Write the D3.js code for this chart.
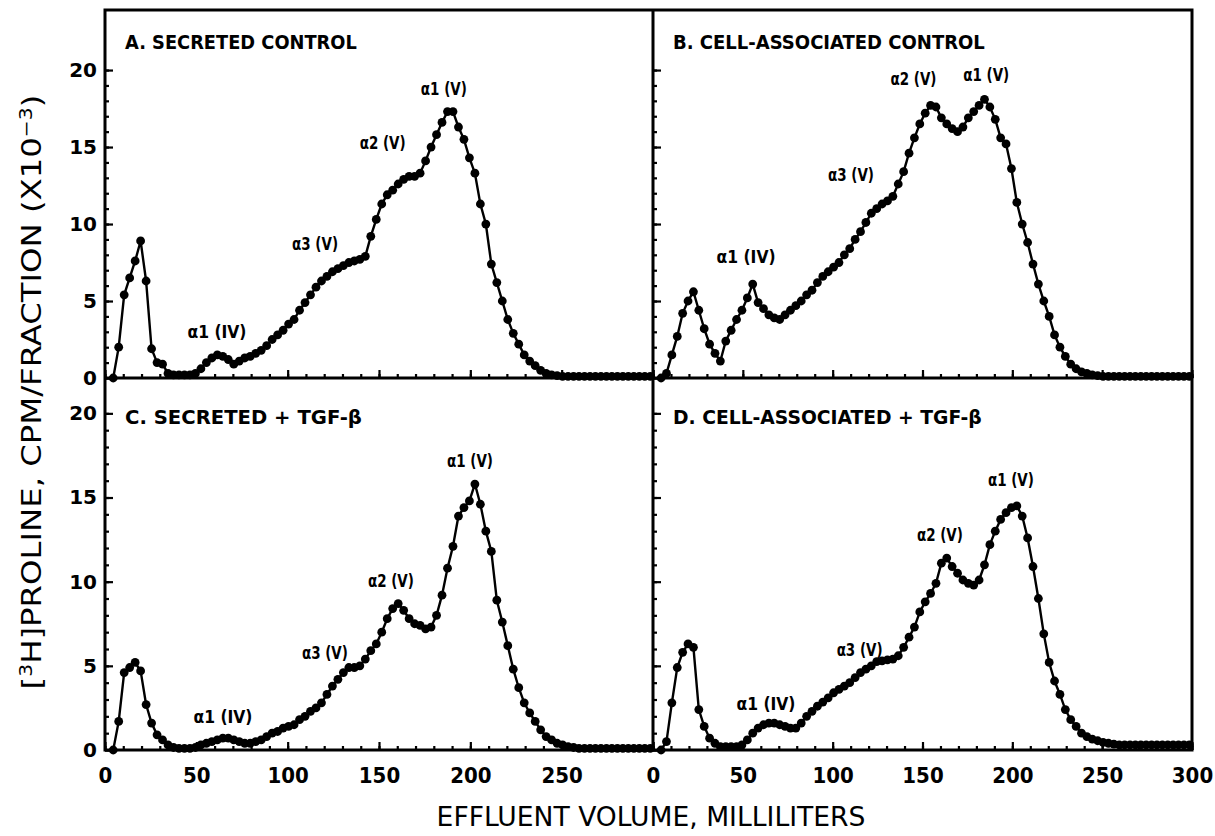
<!DOCTYPE html>
<html lang="en">
<head>
<meta charset="utf-8">
<title>Proline elution profiles</title>
<script src="https://cdn.jsdelivr.net/npm/d3@7"></script>
<style>
	body { margin: 0; background: #fff; }
	svg text { fill: #000; }
</style>
</head>
<body>
<svg id="chart" width="1215" height="836"></svg>
<script>
// fraction volumes (ml) shared by all four columns
var volumes = [4.5, 7.5, 10.5, 13.5, 16.5, 19.5, 22.5, 25.5, 28.5, 31.5,
	34.5, 37.5, 40.5, 43.5, 46.5, 49.5, 52.5, 55.5, 58.5, 61.5,
	64.5, 67.5, 70.5, 73.5, 76.5, 79.5, 82.5, 85.5, 88.5, 91.5,
	94.5, 97.5, 100.5, 103.5, 106.5, 109.5, 112.5, 115.5, 118.5, 121.5,
	124.5, 127.5, 130.5, 133.5, 136.5, 139.5, 142.5, 145.5, 148.5, 151.5,
	154.5, 157.5, 160.5, 163.5, 166.5, 169.5, 172.5, 175.5, 178.5, 181.5,
	184.5, 187.5, 190.5, 193.5, 196.5, 199.5, 202.5, 205.5, 208.5, 211.5,
	214.5, 217.5, 220.5, 223.5, 226.5, 229.5, 232.5, 235.5, 238.5, 241.5,
	244.5, 247.5, 250.5, 253.5, 256.5, 259.5, 262.5, 265.5, 268.5, 271.5,
	274.5, 277.5, 280.5, 283.5, 286.5, 289.5, 292.5, 295.5, 298.5];

// cpm/fraction x10^-3
var secretedControl = [0, 2.0, 5.4, 6.5, 7.6, 8.9, 6.3, 1.9, 1.0, 0.9,
	0.3, 0.2, 0.2, 0.2, 0.2, 0.3, 0.6, 1.0, 1.3, 1.5,
	1.4, 1.2, 0.9, 1.1, 1.3, 1.4, 1.6, 1.8, 2.1, 2.5,
	2.8, 3.1, 3.5, 3.8, 4.4, 4.9, 5.4, 5.9, 6.3, 6.6,
	6.9, 7.1, 7.3, 7.5, 7.6, 7.7, 7.9, 9.2, 10.3, 11.3,
	11.9, 12.2, 12.6, 12.9, 13.1, 13.1, 13.3, 14.1, 15.0, 15.8,
	16.6, 17.3, 17.3, 16.3, 15.5, 14.3, 13.3, 11.3, 10.0, 7.4,
	6.2, 5.0, 3.8, 2.9, 2.2, 1.5, 1.1, 0.8, 0.5, 0.3,
	0.2, 0.15, 0.1, 0.1, 0.1, 0.1, 0.1, 0.1, 0.1, 0.1,
	0.1, 0.1, 0.1, 0.1, 0.1, 0.1, 0.1, 0.1, 0.1];

var cellControl = [0, 0.3, 1.5, 2.7, 4.2, 5.0, 5.6, 4.4, 3.2, 2.2,
	1.6, 1.1, 2.4, 3.1, 3.8, 4.4, 5.2, 6.1, 4.9, 4.5,
	4.1, 3.9, 3.8, 4.1, 4.4, 4.7, 5.0, 5.4, 5.7, 6.2,
	6.6, 6.9, 7.2, 7.5, 8.0, 8.4, 9.0, 9.5, 10.1, 10.7,
	11.0, 11.3, 11.5, 11.8, 12.6, 13.4, 14.6, 15.6, 16.5, 17.2,
	17.7, 17.6, 16.9, 16.5, 16.2, 16.0, 16.3, 16.9, 17.3, 17.7,
	18.1, 17.6, 16.8, 15.6, 15.2, 13.6, 11.4, 10.0, 8.8, 7.4,
	6.1, 5.0, 4.0, 2.8, 2.0, 1.4, 0.9, 0.6, 0.4, 0.3,
	0.2, 0.15, 0.1, 0.1, 0.1, 0.1, 0.1, 0.1, 0.1, 0.1,
	0.1, 0.1, 0.1, 0.1, 0.1, 0.1, 0.1, 0.1, 0.1];

var secretedTgf = [0, 1.7, 4.6, 4.9, 5.2, 4.7, 2.7, 1.6, 0.9, 0.6,
	0.3, 0.15, 0.1, 0.1, 0.1, 0.15, 0.3, 0.4, 0.5, 0.6,
	0.7, 0.7, 0.6, 0.5, 0.4, 0.4, 0.5, 0.6, 0.8, 1.0,
	1.1, 1.3, 1.4, 1.5, 1.8, 2.0, 2.3, 2.5, 2.8, 3.3,
	3.8, 4.2, 4.6, 4.9, 4.9, 5.0, 5.4, 5.9, 6.3, 7.0,
	7.8, 8.4, 8.7, 8.3, 7.8, 7.5, 7.4, 7.2, 7.3, 8.0,
	9.2, 10.8, 12.1, 13.9, 14.4, 14.8, 15.8, 14.6, 13.0, 11.8,
	8.9, 7.6, 6.2, 4.8, 3.7, 2.8, 2.2, 1.7, 1.2, 0.8,
	0.6, 0.4, 0.3, 0.2, 0.15, 0.1, 0.1, 0.1, 0.1, 0.1,
	0.1, 0.1, 0.1, 0.1, 0.1, 0.1, 0.1, 0.1, 0.1];

var cellTgf = [0, 0.5, 2.8, 4.9, 5.8, 6.3, 6.1, 2.4, 1.4, 0.7,
	0.4, 0.2, 0.2, 0.2, 0.2, 0.3, 0.6, 1.0, 1.3, 1.5,
	1.6, 1.6, 1.5, 1.4, 1.3, 1.3, 1.6, 2.0, 2.3, 2.6,
	2.85, 3.1, 3.4, 3.6, 3.8, 4.0, 4.3, 4.6, 4.8, 5.0,
	5.25, 5.3, 5.35, 5.4, 5.6, 6.1, 6.7, 7.3, 8.2, 8.8,
	9.3, 9.9, 11.1, 11.4, 10.9, 10.5, 10.1, 9.9, 9.8, 10.1,
	11.0, 12.2, 13.0, 13.7, 14.1, 14.4, 14.5, 13.9, 12.6, 10.9,
	9.0, 6.9, 5.2, 4.1, 3.3, 2.4, 1.8, 1.4, 1.0, 0.8,
	0.65, 0.55, 0.45, 0.4, 0.35, 0.3, 0.3, 0.3, 0.3, 0.3,
	0.3, 0.3, 0.3, 0.3, 0.3, 0.3, 0.3, 0.3, 0.3];

var panelTitles = ["A. SECRETED CONTROL", "B. CELL-ASSOCIATED CONTROL",
	"C. SECRETED + TGF-\u03B2", "D. CELL-ASSOCIATED + TGF-\u03B2"];

// peak labels: text, volume (ml), level (x10^-3) of the label baseline
var peaksA = [["\u03B11 (V)", 185.5, 18.4], ["\u03B12 (V)", 152, 14.9], ["\u03B13 (V)", 115, 8.3], ["\u03B11 (IV)", 61.3, 2.6]];
var peaksB = [["\u03B12 (V)", 145, 19.0], ["\u03B11 (V)", 185.5, 19.3], ["\u03B13 (V)", 110.2, 12.8], ["\u03B11 (IV)", 51.8, 7.5]];
var peaksC = [["\u03B11 (V)", 199.8, 16.8], ["\u03B12 (V)", 156.5, 9.7], ["\u03B13 (V)", 120.4, 5.4], ["\u03B11 (IV)", 64.6, 1.6]];
var peaksD = [["\u03B11 (V)", 199.2, 15.7], ["\u03B12 (V)", 159.7, 12.4], ["\u03B13 (V)", 115, 5.6], ["\u03B11 (IV)", 62.9, 2.4]];

var yTickLabels = [0, 5, 10, 15, 20];
var xTickLabelsLeft = [0, 50, 100, 150, 200, 250];
var xTickLabelsRight = [0, 50, 100, 150, 200, 250, 300];

var condFont = "'Liberation Sans Narrow','DejaVu Sans Condensed','Roboto Condensed',sans-serif";
var boldFont = "'DejaVu Sans',sans-serif";

var svg = d3.select("#chart");

var L = 105, M = 653, R = 1192, T = 10, MY = 378, B = 750;

var panels = [
	{ title: panelTitles[0], data: secretedControl, peaks: peaksA, left: L, right: M, top: T, bottom: MY, yMax: 23.9, yLab: true, xLab: null, titleW: 232 },
	{ title: panelTitles[1], data: cellControl, peaks: peaksB, left: M, right: R, top: T, bottom: MY, yMax: 23.9, yLab: false, xLab: null, titleW: 312 },
	{ title: panelTitles[2], data: secretedTgf, peaks: peaksC, left: L, right: M, top: MY, bottom: B, yMax: 22.1, yLab: true, xLab: xTickLabelsLeft, titleW: 237 },
	{ title: panelTitles[3], data: cellTgf, peaks: peaksD, left: M, right: R, top: MY, bottom: B, yMax: 22.1, yLab: false, xLab: xTickLabelsRight, titleW: 309 }
];

// squeeze a text element horizontally to a given width
function fitWidth(sel, w, tx, ty, rot) {
	var len = sel.node().getComputedTextLength();
	var k = w / len;
	sel.attr("transform", "translate(" + tx + "," + ty + ")" + (rot ? " rotate(" + rot + ")" : "") + " scale(" + k + ",1)");
}

panels.forEach(function(p) {
	var x = d3.scaleLinear().domain([0, 300]).range([p.left, p.right]);
	var y = d3.scaleLinear().domain([0, p.yMax]).range([p.bottom, p.top]);
	var g = svg.append("g");

	// x ticks (inward)
	g.append("g").attr("transform", "translate(0," + p.bottom + ")")
		.call(d3.axisBottom(x).tickValues(d3.range(0, 301, 10)).tickSize(-4).tickFormat(""));
	var xa = g.append("g").attr("transform", "translate(0," + p.bottom + ")")
		.call(d3.axisBottom(x).tickValues([0, 50, 100, 150, 200, 250, 300]).tickSize(-8).tickPadding(17)
			.tickFormat(function(d) { return p.xLab && p.xLab.indexOf(d) >= 0 ? d : ""; }));
	xa.selectAll("text").attr("font-family", condFont).attr("font-weight", "bold").attr("font-size", 22);

	// y ticks (inward)
	g.append("g").attr("transform", "translate(" + p.left + ",0)")
		.call(d3.axisLeft(y).tickValues(d3.range(0, 21, 1)).tickSize(-4).tickFormat(""));
	var ya = g.append("g").attr("transform", "translate(" + p.left + ",0)")
		.call(d3.axisLeft(y).tickValues(yTickLabels).tickSize(-8).tickPadding(8)
			.tickFormat(function(d) { return p.yLab ? d : ""; }));
	ya.selectAll("text").attr("font-family", boldFont).attr("font-weight", "bold").attr("font-size", 20);

	g.selectAll(".domain").remove();
	g.selectAll(".tick line").attr("stroke", "#000").attr("stroke-width", 2.2);

	var pts = volumes.map(function(v, i) { return [v, p.data[i]]; });
	g.append("path").datum(pts)
		.attr("fill", "none").attr("stroke", "#000").attr("stroke-width", 2.4)
		.attr("d", d3.line().x(function(d) { return x(d[0]); }).y(function(d) { return y(d[1]); }));
	g.selectAll("circle").data(pts).enter().append("circle")
		.attr("cx", function(d) { return x(d[0]); })
		.attr("cy", function(d) { return y(d[1]); })
		.attr("r", 4.4).attr("fill", "#000");

	g.selectAll("text.peak").data(p.peaks).enter().append("text")
		.attr("class", "peak")
		.attr("text-anchor", "middle")
		.attr("font-family", condFont).attr("font-weight", "bold").attr("font-size", 17)
		.text(function(d) { return d[0]; })
		.each(function(d) {
			fitWidth(d3.select(this), d[0].indexOf("IV") >= 0 ? 59 : 46, x(d[1]), y(d[2]));
		});

	var t = g.append("text")
		.attr("font-family", condFont).attr("font-weight", "bold").attr("font-size", 19)
		.text(p.title);
	fitWidth(t, p.titleW, p.left + 20, p.top + (p.top === T ? 39 : 46));
});

// frame
svg.append("rect").attr("x", L).attr("y", T).attr("width", R - L).attr("height", B - T)
	.attr("fill", "none").attr("stroke", "#000").attr("stroke-width", 3);
svg.append("line").attr("x1", M).attr("x2", M).attr("y1", T).attr("y2", B)
	.attr("stroke", "#000").attr("stroke-width", 3);
svg.append("line").attr("x1", L).attr("x2", R).attr("y1", MY).attr("y2", MY)
	.attr("stroke", "#000").attr("stroke-width", 3);

// axis titles
var xt = svg.append("text").attr("text-anchor", "middle")
	.attr("font-family", condFont).attr("font-size", 26)
	.text("EFFLUENT VOLUME, MILLILITERS");
fitWidth(xt, 429, 651, 826);

var yt = svg.append("text").attr("text-anchor", "middle")
	.attr("font-family", condFont).attr("font-size", 27);
yt.append("tspan").text("[");
yt.append("tspan").attr("font-size", 17).attr("dy", -9).text("3");
yt.append("tspan").attr("dy", 9).text("H]PROLINE,  CPM/FRACTION  (X10");
yt.append("tspan").attr("font-size", 17).attr("dy", -9).text("\u22123");
yt.append("tspan").attr("dy", 9).text(")");
fitWidth(yt, 595, 41, 392, -90);
</script>
</body>
</html>
